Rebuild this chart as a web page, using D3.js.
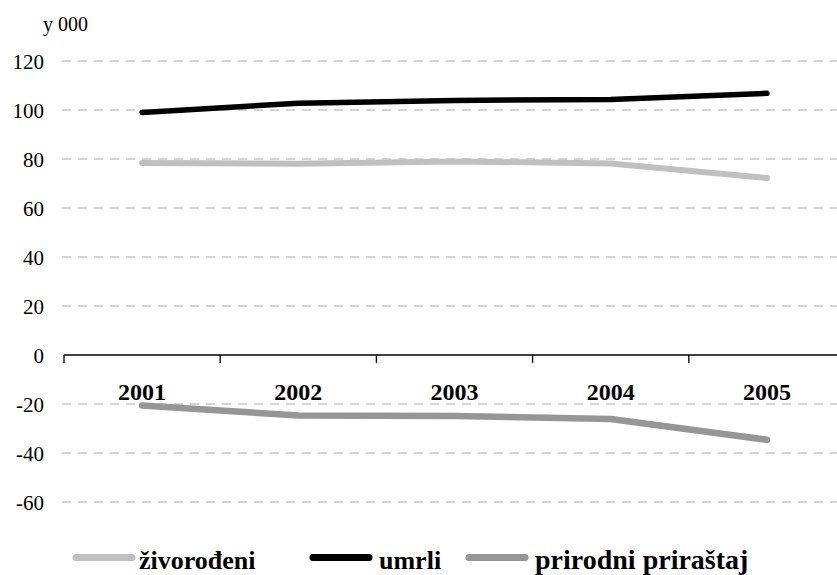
<!DOCTYPE html>
<html><head><meta charset="utf-8">
<script src="https://cdn.jsdelivr.net/npm/d3@7"></script>
<style>body{margin:0;background:#fff}svg{display:block}</style>
</head><body>
<script>
const years = ["2001","2002","2003","2004","2005"];
const zivorodjeni = [78.4, 78.1, 79.0, 78.2, 72.2];
const umrli = [99.0, 102.8, 103.9, 104.3, 106.8];
const prirodni = [-20.6, -24.7, -24.9, -26.1, -34.6];
const yTicks = [-60, -40, -20, 0, 20, 40, 60, 80, 100, 120];
const seriesNames = ["živorođeni", "umrli", "prirodni priraštaj"];

const W = 837, H = 575;
const FONT = "Liberation Serif";
const svg = d3.select("body").append("svg").attr("width", W).attr("height", H)
  .attr("font-family", FONT);

const y = d3.scaleLinear().domain([-60, 120]).range([502, 61]);
const x = d3.scaleBand().domain(years).range([64, 845]);

// gridlines
svg.append("g").selectAll("line").data(yTicks.filter(d => d !== 0)).join("line")
  .attr("x1", 62).attr("x2", W).attr("y1", d => y(d)).attr("y2", d => y(d))
  .attr("stroke", "#c8c8c8").attr("stroke-width", 1.3).attr("stroke-dasharray", "9,7");

// y tick labels
const yAxis = d3.axisLeft(y).tickValues(yTicks).tickSize(0).tickPadding(0);
const gy = svg.append("g").attr("transform", "translate(44,0)").call(yAxis);
gy.attr("font-family", FONT);
gy.select(".domain").remove();
gy.selectAll("text").attr("font-family", FONT).attr("font-size", 21).attr("fill", "#000").attr("dy", "0.38em")
  .text(d => d < 0 ? "-" + Math.abs(d) : d);

// x axis at zero
const xAxis = d3.axisBottom(x).tickSize(0).tickPadding(0);
const gx = svg.append("g").attr("transform", `translate(0,${y(0)})`).call(xAxis);
gx.attr("font-family", FONT);
gx.select(".domain").remove();
gx.selectAll("text").attr("font-family", FONT).attr("font-size", 24).attr("font-weight", "bold").attr("fill", "#000")
  .attr("y", 45).attr("dy", null);
svg.append("line").attr("x1", 64).attr("x2", W).attr("y1", y(0)).attr("y2", y(0))
  .attr("stroke", "#000").attr("stroke-width", 1.3);
svg.append("g").selectAll("line").data(years.slice()).join("line")
  .attr("x1", d => x(d)).attr("x2", d => x(d))
  .attr("y1", y(0)).attr("y2", y(0) + 8).attr("stroke", "#000").attr("stroke-width", 1.3);

// y unit label
svg.append("text").attr("x", 43).attr("y", 31).attr("font-family", FONT).attr("font-size", 20)
  .attr("fill", "#000").text("y 000");

const colors = ["#c0c0c0", "#000000", "#969696"];
const widths = [6, 5.5, 6.5];
const data = [zivorodjeni, umrli, prirodni];
const line = d3.line().x((d, i) => x(years[i]) + x.bandwidth() / 2).y(d => y(d));
data.forEach((s, k) => {
  svg.append("path").datum(s).attr("d", line).attr("fill", "none")
    .attr("stroke", colors[k]).attr("stroke-width", widths[k]).attr("stroke-linecap", "round")
    .attr("stroke-linejoin", "round");
});

// legend
const legSw = [73, 310, 466];
const legTx = [139, 379, 535];
const legSize = [26, 26, 28];
seriesNames.forEach((n, k) => {
  svg.append("line").attr("x1", legSw[k] + 3).attr("x2", legSw[k] + 59).attr("y1", 557.5).attr("y2", 557.5)
    .attr("stroke", colors[k]).attr("stroke-width", 7).attr("stroke-linecap", "round");
  svg.append("text").attr("x", legTx[k]).attr("y", 569).attr("font-family", FONT).attr("font-size", legSize[k])
    .attr("font-weight", "bold").attr("fill", "#000").text(n);
});
</script>
</body></html>
